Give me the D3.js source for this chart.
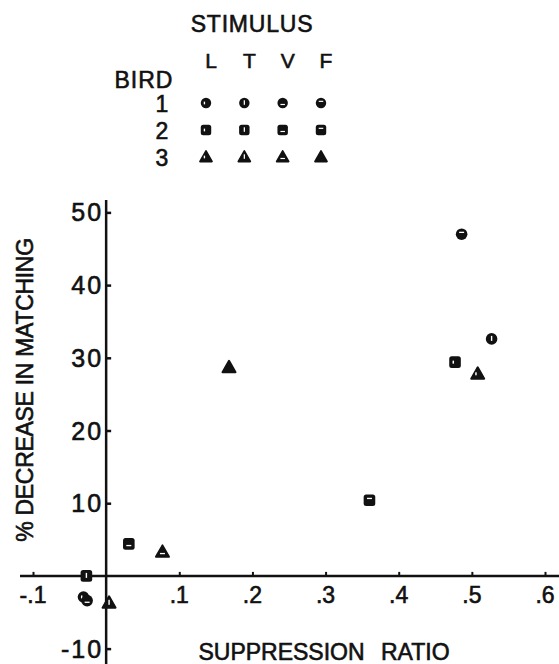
<!DOCTYPE html>
<html>
<head>
<meta charset="utf-8">
<script src="https://cdn.jsdelivr.net/npm/d3@7"></script>
<style>
body { margin: 0; background: #fff; }
text { font-family: "Liberation Sans", Arial, sans-serif; fill: #111; stroke: #111; stroke-width: 0.6px; }
</style>
</head>
<body>
<script>
var W = 559, H = 664;

// data
var stimuli = ['L', 'T', 'V', 'F'];
var birds = ['1', '2', '3'];
var bird1X = [-0.031, 0.527, -0.026, 0.486];
var bird1Y = [-2.9, 32.6, -3.4, 47.0];
var bird2X = [0.477, -0.027, 0.031, 0.360];
var bird2Y = [29.4, 0, 4.4, 10.4];
var bird3X = [0.508, 0.004, 0.077, 0.168];
var bird3Y = [27.8, -3.7, 3.3, 28.7];
var xTicks = [-0.1, 0.1, 0.2, 0.3, 0.4, 0.5, 0.6];
var xTickLabels = ['-.1', '.1', '.2', '.3', '.4', '.5', '.6'];
var yTicks = [-10, 10, 20, 30, 40, 50];

var svg = d3.select('body').append('svg')
	.attr('width', W).attr('height', H);

var x = d3.scaleLinear().domain([-0.1, 0.6]).range([33, 545]);
var y = d3.scaleLinear().domain([-10, 50]).range([648.6, 212.4]);

// axes drawn through the origin
var ax = svg.append('g');
ax.append('line')
	.attr('x1', 20).attr('x2', W)
	.attr('y1', y(0)).attr('y2', y(0))
	.attr('stroke', '#111').attr('stroke-width', 2.5);
ax.append('line')
	.attr('x1', x(0)).attr('x2', x(0))
	.attr('y1', 200).attr('y2', H)
	.attr('stroke', '#111').attr('stroke-width', 2.5);

var xAxis = d3.axisTop(x).tickValues(xTicks).tickSize(4).tickFormat('');
svg.append('g').attr('transform', 'translate(0,' + y(0) + ')').call(xAxis)
	.call(function(g){ g.select('.domain').remove(); })
	.selectAll('line').attr('stroke', '#111').attr('stroke-width', 2);

svg.append('g').selectAll('text').data(xTicks).enter().append('text')
	.attr('x', function(d){ return x(d); })
	.attr('y', y(0) + 27)
	.attr('text-anchor', 'middle')
	.style('font-size', '23px')
	.text(function(d, i){ return xTickLabels[i]; });

var yAxis = d3.axisRight(y).tickValues(yTicks).tickSize(5).tickFormat('');
svg.append('g').attr('transform', 'translate(' + x(0) + ',0)').call(yAxis)
	.call(function(g){ g.select('.domain').remove(); })
	.selectAll('line').attr('stroke', '#111').attr('stroke-width', 2.5);

svg.append('g').selectAll('text').data(yTicks).enter().append('text')
	.attr('x', x(0) - 3)
	.attr('y', function(d){ return y(d) + 9; })
	.attr('text-anchor', 'end')
	.style('font-size', '25px')
	.style('letter-spacing', '2px')
	.text(function(d){ return d; });

// axis titles
svg.append('text')
	.attr('transform', 'translate(33,390) rotate(-90)')
	.attr('text-anchor', 'middle')
	.style('font-size', '23px')
	.style('letter-spacing', '-0.3px')
	.text('% DECREASE IN MATCHING');

svg.append('text')
	.attr('x', 324).attr('y', 660)
	.attr('text-anchor', 'middle')
	.style('font-size', '23px')
	.style('word-spacing', '10px')
	.text('SUPPRESSION RATIO');

// markers: shape per bird, small white notch per stimulus
function drawMark(g, bird, stim, cx, cy, s){
	var k = s || 1;
	if(bird === 0){
		g.append('circle').attr('cx', cx).attr('cy', cy).attr('r', 5.8 * k).attr('fill', '#111');
	} else if(bird === 1){
		g.append('rect').attr('x', cx - 5.8 * k).attr('y', cy - 5.8 * k)
			.attr('width', 11.6 * k).attr('height', 11.6 * k).attr('rx', 2.5).attr('fill', '#111');
	} else {
		var r = 6.5 * k;
		g.append('path')
			.attr('d', 'M' + cx + ',' + (cy - r) + 'L' + (cx + r) + ',' + (cy + r * 0.75) + 'L' + (cx - r) + ',' + (cy + r * 0.75) + 'Z')
			.attr('fill', '#111').attr('stroke', '#111').attr('stroke-width', 2).attr('stroke-linejoin', 'round');
	}
	var wc = '#fff';
	if(stim === 'L'){
		g.append('rect').attr('x', cx - 2.5 * k).attr('y', cy - 1.5 * k).attr('width', 1.5 * k).attr('height', 3 * k).attr('fill', wc);
	} else if(stim === 'T'){
		g.append('rect').attr('x', cx - 0.7 * k).attr('y', cy - 3 * k).attr('width', 1.4 * k).attr('height', 5 * k).attr('fill', wc);
	} else if(stim === 'V'){
		g.append('rect').attr('x', cx - 2.5 * k).attr('y', cy + 1 * k).attr('width', 5 * k).attr('height', 1.3 * k).attr('fill', wc);
	} else if(bird !== 2){
		g.append('rect').attr('x', cx - 2.5 * k).attr('y', cy - 2.5 * k).attr('width', 5 * k).attr('height', 1.3 * k).attr('fill', wc);
	}
}

var allX = [bird1X, bird2X, bird3X];
var allY = [bird1Y, bird2Y, bird3Y];
var pts = svg.append('g');
allX.forEach(function(xs, b){
	xs.forEach(function(v, i){
		drawMark(pts, b, stimuli[i], x(v), y(allY[b][i]));
	});
});

// legend
var leg = svg.append('g');
var colX = d3.scalePoint().domain(stimuli).range([206, 321]);
var rowY = d3.scalePoint().domain(birds).range([103, 157]);

leg.append('text').attr('x', 252).attr('y', 32)
	.attr('text-anchor', 'middle').style('font-size', '23px')
	.style('letter-spacing', '0.8px')
	.text('STIMULUS');
leg.selectAll('.col').data(stimuli).enter().append('text')
	.attr('x', function(d){ return colX(d) + 5; })
	.attr('y', 68)
	.attr('text-anchor', 'middle').style('font-size', '21px')
	.text(function(d){ return d; });
leg.append('text').attr('x', 144).attr('y', 88)
	.attr('text-anchor', 'middle').style('font-size', '23px')
	.style('letter-spacing', '1px')
	.text('BIRD');
leg.selectAll('.row').data(birds).enter().append('text')
	.attr('x', 162)
	.attr('y', function(d){ return rowY(d) + 9; })
	.attr('text-anchor', 'middle').style('font-size', '23px')
	.text(function(d){ return d; });
birds.forEach(function(bd, b){
	stimuli.forEach(function(st){
		drawMark(leg, b, st, colX(st), rowY(bd), 0.9);
	});
});
</script>
</body>
</html>
